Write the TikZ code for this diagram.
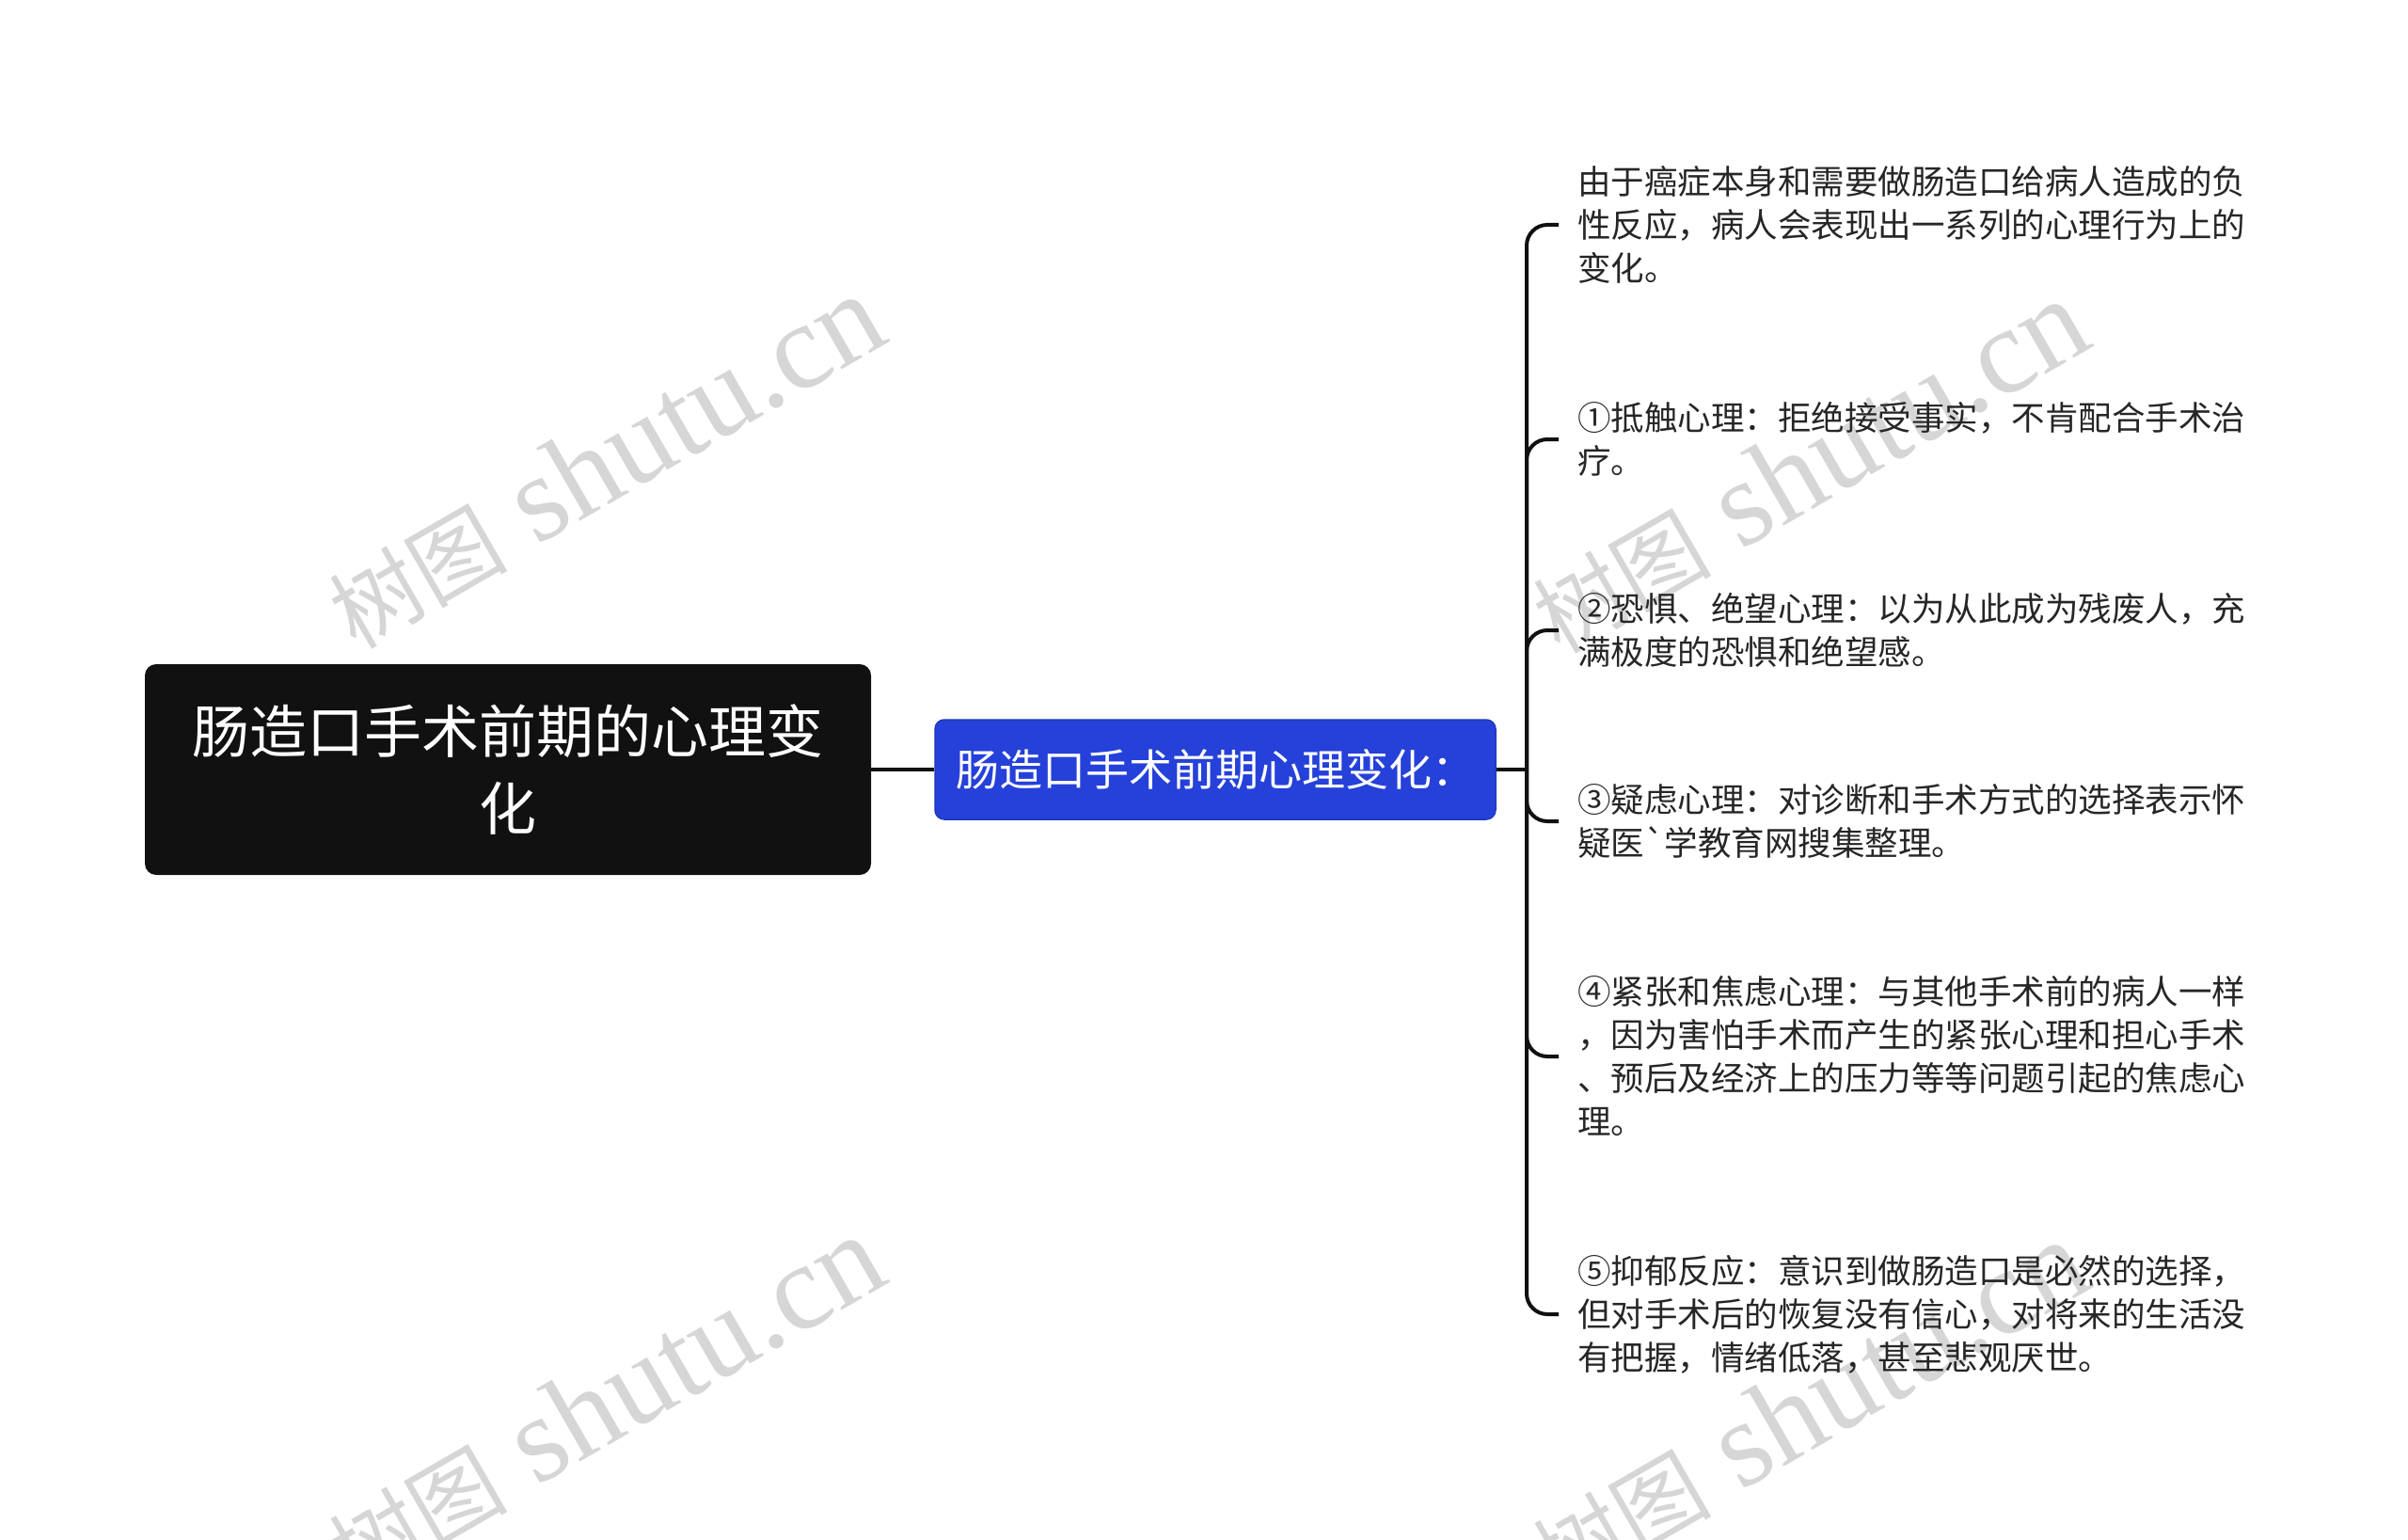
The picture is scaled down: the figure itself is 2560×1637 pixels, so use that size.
\documentclass[tikz,border=0pt]{standalone}
\usepackage{fontspec}
\newfontfamily\cjk{Noto Sans CJK SC}
\newfontfamily\wmf{Liberation Serif}
\definecolor{rootblack}{HTML}{111111}
\definecolor{subblue}{HTML}{2541D9}
\definecolor{subedge}{HTML}{1F38C0}
\definecolor{leafgray}{HTML}{262626}
\definecolor{linecol}{HTML}{111111}
\definecolor{wmgray}{HTML}{D6D6D6}
\begin{document}
\begin{tikzpicture}[x=1pt,y=-1pt,
  rootbox/.style={fill=rootblack, rounded corners=12pt, minimum width=772pt, minimum height=224pt,
    text=white, align=center, inner sep=0pt, font=\cjk\fontsize{61}{82}\selectfont},
  subbox/.style={fill=subblue, draw=subedge, line width=1.5pt, rounded corners=10pt,
    minimum width=596pt, minimum height=106pt, text=white, inner sep=0pt,
    font=\cjk\fontsize{46}{54}\selectfont},
  leaf/.style={anchor=west, align=left, inner sep=0pt, text=leafgray,
    font=\cjk\fontsize{35.5}{46}\selectfont},
  conn/.style={draw=linecol, line width=4pt},
  branch/.style={conn, rounded corners=22pt},
  wm/.style={anchor=base west, rotate=30, text=wmgray, inner sep=0pt}]
\useasboundingbox (0,0) rectangle (2560,1637);

% watermarks
\node[wm] (w1) at (378,692) {{\cjk\fontsize{95}{95}\selectfont 树图}{\wmf\fontsize{130}{130}\selectfont\ shutu.cn}};
\node[wm] (w2) at (1658,697) {{\cjk\fontsize{95}{95}\selectfont 树图}{\wmf\fontsize{130}{130}\selectfont\ shutu.cn}};
\node[wm] (w3) at (378,1692) {{\cjk\fontsize{95}{95}\selectfont 树图}{\wmf\fontsize{130}{130}\selectfont\ shutu.cn}};
\node[wm] (w4) at (1658,1697) {{\cjk\fontsize{95}{95}\selectfont 树图}{\wmf\fontsize{130}{130}\selectfont\ shutu.cn}};

% main nodes
\node[rootbox] (root) at (540,818) {肠造口手术前期的心理变\\化};
\node[subbox] (sub) at (1292,818) {肠造口手术前期心理变化：};
\coordinate (J) at (1623,818);

% leaves
\node[leaf] (L1) at (1677,239) {由于癌症本身和需要做肠造口给病人造成的负\\性反应，病人会表现出一系列的心理行为上的\\变化。};
\node[leaf] (L2) at (1677,467) {①抵触心理：拒绝接受事实，不肯配合手术治\\疗。};
\node[leaf] (L3) at (1677,670) {②恐惧、绝望心理：以为从此成为残废人，充\\满极度的恐惧和绝望感。};
\node[leaf] (L4) at (1677,873) {③疑虑心理：对诊断和手术方式的选择表示怀\\疑医`学教育网搜集整理。};
\node[leaf] (L5) at (1677,1123) {④紧张和焦虑心理：与其他手术前的病人一样\\，因为害怕手术而产生的紧张心理和担心手术\\、预后及经济上的压力等等问题引起的焦虑心\\理。};
\node[leaf] (L6) at (1677,1397) {⑤抑郁反应：意识到做肠造口是必然的选择，\\但对手术后的恢复没有信心，对将来的生活没\\有把握，情绪低落，甚至悲观厌世。};

% connectors
\draw[conn] (root.east) -- (sub.west);
\draw[conn] (sub.east) -- (J);
\foreach \n in {L1,L2,L3,L4,L5,L6}
  \draw[branch] (J) |- ([xshift=-20pt]\n.west);
\end{tikzpicture}
\end{document}
